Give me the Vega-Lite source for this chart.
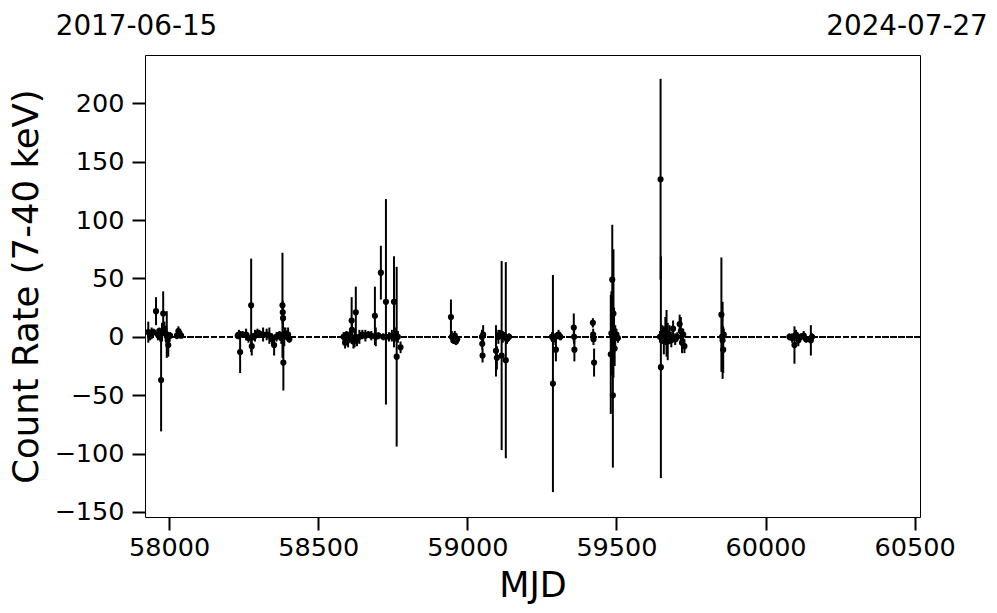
{
  "$schema": "https://vega.github.io/schema/vega-lite/v6.json",
  "width": 775,
  "height": 462,
  "autosize": {"type": "none"},
  "padding": {"left": 145, "top": 55, "right": 77, "bottom": 96},
  "background": "white",
  "config": {
    "font": "DejaVu Sans",
    "view": {"stroke": "black", "strokeWidth": 1},
    "axis": {"grid": false, "domain": false, "labelColor": "black", "titleColor": "black", "tickColor": "black", "titleFontWeight": "normal", "labelFlush": false, "labelOverlap": false, "labelBound": false},
    "axisY": {"values": [-150, -100, -50, 0, 50, 100, 150, 200], "labelExpr": "replace(datum.label, '-', '−')", "tickSize": 13, "tickWidth": 2, "labelFontSize": 25.5, "labelPadding": 8, "titleFontSize": 35.5, "titlePadding": 9}
  },
  "data": {
    "values": [
      {"mjd": 57930, "rate": 4, "err": 9},
      {"mjd": 57936, "rate": 1, "err": 4},
      {"mjd": 57941, "rate": 3, "err": 5},
      {"mjd": 57947, "rate": 4, "err": 3},
      {"mjd": 57956, "rate": 22, "err": 12},
      {"mjd": 57962, "rate": 2, "err": 5},
      {"mjd": 57967, "rate": 5, "err": 3},
      {"mjd": 57970, "rate": 0, "err": 4},
      {"mjd": 57973, "rate": -37, "err": 44},
      {"mjd": 57976, "rate": 4, "err": 8},
      {"mjd": 57980, "rate": 20, "err": 19},
      {"mjd": 57984, "rate": 7, "err": 6},
      {"mjd": 57988, "rate": 3, "err": 5},
      {"mjd": 57992, "rate": 2, "err": 20},
      {"mjd": 57995, "rate": -3, "err": 5},
      {"mjd": 57997, "rate": -7, "err": 10},
      {"mjd": 58003, "rate": 1, "err": 3},
      {"mjd": 58026, "rate": 1, "err": 3},
      {"mjd": 58031, "rate": 5, "err": 4},
      {"mjd": 58035, "rate": 3, "err": 3},
      {"mjd": 58040, "rate": 1, "err": 2},
      {"mjd": 58230, "rate": 1, "err": 3},
      {"mjd": 58234, "rate": 2, "err": 4},
      {"mjd": 58238, "rate": -13, "err": 18},
      {"mjd": 58246, "rate": 2, "err": 3},
      {"mjd": 58258, "rate": 2, "err": 5},
      {"mjd": 58266, "rate": -1, "err": 4},
      {"mjd": 58275, "rate": 27, "err": 40},
      {"mjd": 58277, "rate": -8, "err": 8},
      {"mjd": 58281, "rate": 0, "err": 3},
      {"mjd": 58288, "rate": 1, "err": 5},
      {"mjd": 58296, "rate": 3, "err": 4},
      {"mjd": 58302, "rate": 3, "err": 3},
      {"mjd": 58315, "rate": 2, "err": 6},
      {"mjd": 58327, "rate": 2, "err": 5},
      {"mjd": 58336, "rate": 1, "err": 7},
      {"mjd": 58345, "rate": -2, "err": 5},
      {"mjd": 58352, "rate": -7, "err": 9},
      {"mjd": 58360, "rate": 0, "err": 4},
      {"mjd": 58370, "rate": 2, "err": 3},
      {"mjd": 58376, "rate": -1, "err": 5},
      {"mjd": 58380, "rate": 27, "err": 45},
      {"mjd": 58381, "rate": 21, "err": 10},
      {"mjd": 58382, "rate": 16, "err": 9},
      {"mjd": 58383, "rate": -22, "err": 24},
      {"mjd": 58386, "rate": 0, "err": 8},
      {"mjd": 58390, "rate": 3, "err": 5},
      {"mjd": 58395, "rate": 1, "err": 4},
      {"mjd": 58399, "rate": 2, "err": 6},
      {"mjd": 58403, "rate": -2, "err": 3},
      {"mjd": 58585, "rate": 0, "err": 4},
      {"mjd": 58590, "rate": -5, "err": 5},
      {"mjd": 58595, "rate": 2, "err": 3},
      {"mjd": 58600, "rate": -3, "err": 6},
      {"mjd": 58606, "rate": 1, "err": 4},
      {"mjd": 58612, "rate": 14, "err": 20},
      {"mjd": 58613, "rate": 6, "err": 8},
      {"mjd": 58618, "rate": -4, "err": 6},
      {"mjd": 58622, "rate": -2, "err": 7},
      {"mjd": 58626, "rate": 21, "err": 22},
      {"mjd": 58630, "rate": -3, "err": 5},
      {"mjd": 58638, "rate": 0, "err": 6},
      {"mjd": 58648, "rate": 2, "err": 4},
      {"mjd": 58658, "rate": 1, "err": 5},
      {"mjd": 58668, "rate": 2, "err": 3},
      {"mjd": 58678, "rate": 1, "err": 4},
      {"mjd": 58690, "rate": 18, "err": 25},
      {"mjd": 58693, "rate": 0, "err": 8},
      {"mjd": 58702, "rate": 1, "err": 3},
      {"mjd": 58710, "rate": 55, "err": 23},
      {"mjd": 58718, "rate": 0, "err": 3},
      {"mjd": 58727, "rate": 30, "err": 88},
      {"mjd": 58737, "rate": 0, "err": 4},
      {"mjd": 58747, "rate": 1, "err": 5},
      {"mjd": 58754, "rate": 30, "err": 39},
      {"mjd": 58757, "rate": 2, "err": 6},
      {"mjd": 58763, "rate": -17, "err": 77},
      {"mjd": 58767, "rate": 0, "err": 5},
      {"mjd": 58776, "rate": -9, "err": 5},
      {"mjd": 58945, "rate": 17, "err": 15},
      {"mjd": 58948, "rate": 0, "err": 5},
      {"mjd": 58953, "rate": -3, "err": 3},
      {"mjd": 58958, "rate": 1, "err": 4},
      {"mjd": 58962, "rate": -4, "err": 3},
      {"mjd": 58966, "rate": -2, "err": 2},
      {"mjd": 59049, "rate": 0, "err": 6},
      {"mjd": 59050, "rate": -6, "err": 5},
      {"mjd": 59051, "rate": -16, "err": 6},
      {"mjd": 59053, "rate": 2, "err": 8},
      {"mjd": 59096, "rate": -12, "err": 22},
      {"mjd": 59099, "rate": -18, "err": 10},
      {"mjd": 59104, "rate": 0, "err": 6},
      {"mjd": 59109, "rate": 2, "err": 4},
      {"mjd": 59115, "rate": -16, "err": 81},
      {"mjd": 59119, "rate": 0, "err": 5},
      {"mjd": 59124, "rate": 1, "err": 3},
      {"mjd": 59129, "rate": -20, "err": 84},
      {"mjd": 59133, "rate": -2, "err": 4},
      {"mjd": 59140, "rate": 0, "err": 3},
      {"mjd": 59284, "rate": 0, "err": 4},
      {"mjd": 59287, "rate": -40, "err": 93},
      {"mjd": 59289, "rate": -2, "err": 5},
      {"mjd": 59297, "rate": -11, "err": 10},
      {"mjd": 59301, "rate": 1, "err": 3},
      {"mjd": 59306, "rate": 2, "err": 4},
      {"mjd": 59312, "rate": 0, "err": 3},
      {"mjd": 59357, "rate": 8, "err": 12},
      {"mjd": 59358, "rate": 0, "err": 6},
      {"mjd": 59359, "rate": -11, "err": 10},
      {"mjd": 59421, "rate": 12, "err": 4},
      {"mjd": 59422, "rate": 2, "err": 5},
      {"mjd": 59423, "rate": -2, "err": 5},
      {"mjd": 59425, "rate": -22, "err": 12},
      {"mjd": 59481, "rate": -15, "err": 51},
      {"mjd": 59483, "rate": 3, "err": 36},
      {"mjd": 59486, "rate": 49, "err": 47},
      {"mjd": 59488, "rate": -50, "err": 62},
      {"mjd": 59490, "rate": 20, "err": 55},
      {"mjd": 59492, "rate": 5, "err": 20},
      {"mjd": 59494, "rate": -10, "err": 15},
      {"mjd": 59496, "rate": 0, "err": 10},
      {"mjd": 59500, "rate": 2, "err": 5},
      {"mjd": 59505, "rate": -1, "err": 4},
      {"mjd": 59646, "rate": 0, "err": 5},
      {"mjd": 59648, "rate": 135, "err": 86},
      {"mjd": 59649, "rate": -26, "err": 95},
      {"mjd": 59654, "rate": 2, "err": 8},
      {"mjd": 59659, "rate": -3, "err": 12},
      {"mjd": 59664, "rate": 5, "err": 12},
      {"mjd": 59668, "rate": 3, "err": 20},
      {"mjd": 59672, "rate": -4, "err": 16},
      {"mjd": 59678, "rate": 2, "err": 8},
      {"mjd": 59684, "rate": -3, "err": 6},
      {"mjd": 59690, "rate": 7, "err": 7},
      {"mjd": 59697, "rate": -2, "err": 5},
      {"mjd": 59704, "rate": 0, "err": 4},
      {"mjd": 59712, "rate": 11, "err": 8},
      {"mjd": 59716, "rate": 5, "err": 12},
      {"mjd": 59720, "rate": -5, "err": 9},
      {"mjd": 59724, "rate": 2, "err": 5},
      {"mjd": 59728, "rate": -8, "err": 6},
      {"mjd": 59852, "rate": 19, "err": 49},
      {"mjd": 59854, "rate": 0, "err": 12},
      {"mjd": 59856, "rate": -3, "err": 33},
      {"mjd": 59858, "rate": -11, "err": 20},
      {"mjd": 59860, "rate": 2, "err": 5},
      {"mjd": 60080, "rate": 0, "err": 3},
      {"mjd": 60089, "rate": -1, "err": 4},
      {"mjd": 60097, "rate": -7, "err": 16},
      {"mjd": 60102, "rate": 2, "err": 4},
      {"mjd": 60110, "rate": -3, "err": 5},
      {"mjd": 60118, "rate": 0, "err": 3},
      {"mjd": 60128, "rate": 1, "err": 4},
      {"mjd": 60136, "rate": -2, "err": 3},
      {"mjd": 60152, "rate": -3, "err": 13},
      {"mjd": 60156, "rate": 0, "err": 3}
    ]
  },
  "layer": [
    {
      "mark": {"type": "rule", "strokeDash": [5.5, 2.4], "strokeWidth": 1.5, "color": "black"},
      "encoding": {"y": {"datum": 0, "type": "quantitative", "title": "Count Rate (7-40 keV)", "scale": {"domain": [-154.3, 241.4], "nice": false, "zero": false}}}
    },
    {
      "mark": {"type": "errorbar", "thickness": 2, "color": "black"},
      "encoding": {
        "x": {
          "field": "mjd", "type": "quantitative",
          "scale": {"domain": [57919, 60518], "nice": false, "zero": false},
          "axis": {"orient": "top", "values": [57919, 60503], "labelExpr": "datum.value < 59000 ? '2017-06-15' : '2024-07-27'", "ticks": false, "tickSize": 0, "labelOffset": -9, "labelFontSize": 27.8, "labelPadding": 15, "title": null}
        },
        "y": {
          "field": "rate", "type": "quantitative", "title": "Count Rate (7-40 keV)",
          "scale": {"domain": [-154.3, 241.4], "nice": false, "zero": false}
        },
        "yError": {"field": "err"}
      }
    },
    {
      "mark": {"type": "point", "filled": true, "size": 38, "color": "black", "opacity": 1, "strokeWidth": 0},
      "encoding": {
        "x": {
          "field": "mjd", "type": "quantitative",
          "scale": {"domain": [57919, 60518], "nice": false, "zero": false},
          "axis": {"orient": "bottom", "values": [58000, 58500, 59000, 59500, 60000, 60500], "format": "d", "tickSize": 13, "tickWidth": 2, "labelFontSize": 25.5, "labelPadding": 5.5, "title": "MJD", "titleFontSize": 35, "titlePadding": 7}
        },
        "y": {
          "field": "rate", "type": "quantitative", "title": "Count Rate (7-40 keV)",
          "scale": {"domain": [-154.3, 241.4], "nice": false, "zero": false}
        }
      }
    }
  ]
}
